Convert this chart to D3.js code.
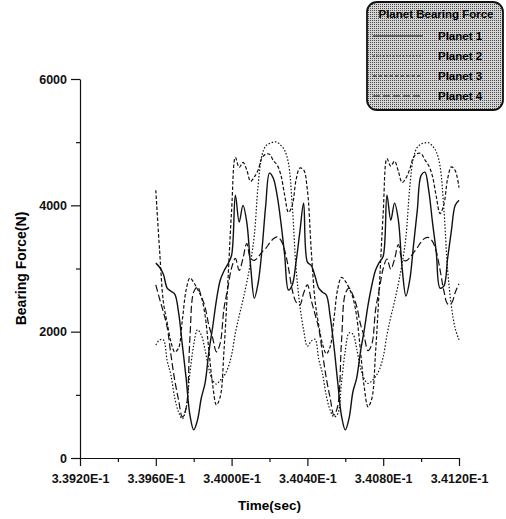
<!DOCTYPE html>
<html>
<head>
<meta charset="utf-8">
<script src="https://cdn.jsdelivr.net/npm/d3@7"></script>
<style>
  body { margin: 0; background: #fff; }
  svg { display: block; font-family: "Liberation Sans", Arial, sans-serif; }
</style>
</head>
<body>
<div id="chart"></div>
<script>
// Sample times (sec), one every 0.00002 s
const times = [
    0.33960, 0.33962, 0.33964, 0.33966, 0.33968, 0.33970, 0.33972, 0.33974, 0.33976, 0.33978,
    0.33980, 0.33982, 0.33984, 0.33986, 0.33988, 0.33990, 0.33992, 0.33994, 0.33996, 0.33998,
    0.34000, 0.34002, 0.34004, 0.34006, 0.34008, 0.34010, 0.34012, 0.34014, 0.34016, 0.34018,
    0.34020, 0.34022, 0.34024, 0.34026, 0.34028, 0.34030, 0.34032, 0.34034, 0.34036, 0.34038,
    0.34040, 0.34042, 0.34044, 0.34046, 0.34048, 0.34050, 0.34052, 0.34054, 0.34056, 0.34058,
    0.34060, 0.34062, 0.34064, 0.34066, 0.34068, 0.34070, 0.34072, 0.34074, 0.34076, 0.34078,
    0.34080, 0.34082, 0.34084, 0.34086, 0.34088, 0.34090, 0.34092, 0.34094, 0.34096, 0.34098,
    0.34100, 0.34102, 0.34104, 0.34106, 0.34108, 0.34110, 0.34112, 0.34114, 0.34116, 0.34118,
    0.34120
];

// Bearing force (N)
const planet1 = [
    3085, 3020, 2910, 2690, 2640, 2595, 2310, 1790, 1265, 680,
    445, 600, 950, 1185, 1680, 2070, 2500, 2815, 2960, 3070,
    3210, 4160, 3735, 4000, 3735, 3050, 2530, 2770, 3290, 4000,
    4510, 4430, 4160, 3735, 3210, 2660, 2740, 3100, 3575, 4035,
    3100, 3050, 2880, 2690, 2625, 2580, 2245, 1770, 1200, 665,
    445, 630, 1045, 1265, 1680, 2025, 2420, 2735, 2975, 3100,
    3195, 4160, 3765, 4035, 3765, 3005, 2565, 2815, 3370, 3925,
    4475, 4525, 4240, 3735, 3260, 2690, 2720, 3160, 3605, 4000,
    4080
];
const planet2 = [
    1790, 1870, 1870, 1540, 1310, 950, 730, 620, 790, 1340,
    1790, 2030, 1950, 1710, 1410, 1230, 1170, 1230, 1300, 1420,
    1630, 1980, 2250, 2500, 2780, 3100, 3530, 4320, 4790, 4940,
    4980, 5000, 5000, 4950, 4870, 4670, 4000, 3010, 2420, 2030,
    1770, 1850, 1880, 1560, 1330, 980, 760, 650, 700, 1200,
    1700, 1980, 1960, 1730, 1430, 1250, 1180, 1220, 1290, 1400,
    1600, 1950, 2230, 2480, 2760, 3080, 3500, 4280, 4760, 4920,
    4970, 4990, 4990, 4940, 4850, 4620, 3950, 2980, 2400, 2050,
    1870
];
const planet3 = [
    4240, 3290, 2470, 2140, 1840, 1680, 1740, 2180, 2660, 2850,
    2780, 2670, 2550, 2260, 1710, 1160, 840, 970, 1710, 2770,
    3920, 4760, 4600, 4680, 4560, 4380, 4450, 4560, 4750, 4810,
    4810, 4710, 4640, 4480, 4160, 3890, 4000, 4400, 4590, 4560,
    4240, 3300, 2500, 2100, 1800, 1650, 1760, 2200, 2680, 2860,
    2800, 2690, 2540, 2240, 1700, 1120, 810, 940, 1690, 2740,
    3880, 4740, 4620, 4700, 4540, 4360, 4430, 4570, 4760, 4820,
    4820, 4720, 4630, 4460, 4140, 3870, 4010, 4420, 4610, 4550,
    4280
];
const planet4 = [
    2740, 2520, 2310, 2070, 1630, 1230, 920, 650, 790, 1900,
    2630, 2710, 2560, 2390, 2100, 1900, 1680, 1820, 2370, 2690,
    3010, 3160, 2970, 3160, 3400, 3160, 3130, 3180, 3260, 3320,
    3400, 3470, 3500, 3450, 3290, 3010, 2660, 2470, 2420, 2610,
    2740, 2500, 2280, 2050, 1650, 1260, 950, 680, 820, 1850,
    2600, 2690, 2580, 2400, 2120, 1920, 1700, 1800, 2350, 2680,
    3000, 3150, 2990, 3150, 3380, 3150, 3120, 3170, 3250, 3330,
    3420, 3480, 3490, 3430, 3270, 2980, 2650, 2440, 2450, 2620,
    2760
];

const seriesNames = ["Planet 1", "Planet 2", "Planet 3", "Planet 4"];
const xTicks = [0.3392, 0.3396, 0.3400, 0.3404, 0.3408, 0.3412];
const xMinorTicks = [0.3394, 0.3398, 0.3402, 0.3406, 0.3410];
const yTicks = [0, 2000, 4000, 6000];
const yMinorTicks = [1000, 3000, 5000];

const series = [planet1, planet2, planet3, planet4];
const dashes = [null, "1.5,1.8", "3.5,2", "7,3"];

const W = 506, H = 519;
const margin = { top: 79, right: 47, bottom: 61, left: 80 };

const svg = d3.select("#chart").append("svg")
    .attr("width", W)
    .attr("height", H);

const x = d3.scaleLinear().domain([0.3392, 0.3412]).range([margin.left, W - margin.right]);
const y = d3.scaleLinear().domain([0, 6000]).range([H - margin.bottom, margin.top]);

// x axis
svg.append("g")
    .attr("transform", `translate(0,${y(0)})`)
    .call(d3.axisBottom(x).tickValues(xTicks).tickSize(8).tickSizeOuter(0).tickPadding(8)
        .tickFormat(d => (d * 10).toFixed(4) + "E-1"));
svg.append("g")
    .attr("transform", `translate(0,${y(0)})`)
    .call(d3.axisBottom(x).tickValues(xMinorTicks).tickSize(4).tickSizeOuter(0).tickFormat(""))
    .select(".domain").remove();

// y axis
svg.append("g")
    .attr("transform", `translate(${x(0.3392)},0)`)
    .call(d3.axisLeft(y).tickValues(yTicks).tickSize(9).tickSizeOuter(0).tickPadding(4)
        .tickFormat(d3.format("d")));
svg.append("g")
    .attr("transform", `translate(${x(0.3392)},0)`)
    .call(d3.axisLeft(y).tickValues(yMinorTicks).tickSize(4).tickSizeOuter(0).tickFormat(""))
    .select(".domain").remove();

svg.selectAll(".tick text")
    .attr("font-family", "Liberation Sans, Arial, sans-serif")
    .attr("font-size", 12.5)
    .attr("font-weight", "bold")
    .attr("fill", "#111");
svg.selectAll(".domain, .tick line").attr("stroke", "#111").attr("stroke-width", 1.2);

// axis titles
svg.append("text")
    .attr("x", (x(0.3392) + x(0.3412)) / 2)
    .attr("y", 510)
    .attr("text-anchor", "middle")
    .attr("font-size", 13.5)
    .attr("font-weight", "bold")
    .text("Time(sec)");

svg.append("text")
    .attr("transform", `translate(26,${(y(0) + y(6000)) / 2}) rotate(-90)`)
    .attr("text-anchor", "middle")
    .attr("font-size", 14)
    .attr("font-weight", "bold")
    .text("Bearing Force(N)");

// lines
const line = d3.line()
    .x((d, i) => x(times[i]))
    .y(d => y(d))
    .curve(d3.curveCatmullRom.alpha(0.5));

series.forEach((s, i) => {
    svg.append("path")
        .datum(s)
        .attr("fill", "none")
        .attr("stroke", "#111")
        .attr("stroke-width", i === 0 ? 1.4 : 1.2)
        .attr("stroke-dasharray", dashes[i])
        .attr("d", line);
});

// legend
const defs = svg.append("defs");
const pat = defs.append("pattern")
    .attr("id", "dots")
    .attr("width", 2).attr("height", 2)
    .attr("patternUnits", "userSpaceOnUse");
pat.append("rect").attr("width", 2).attr("height", 2).attr("fill", "#d4d4d4");
pat.append("rect").attr("width", 1).attr("height", 1).attr("fill", "#4a4a4a");

const legend = svg.append("g");
legend.append("rect")
    .attr("x", 367).attr("y", 2)
    .attr("width", 136).attr("height", 108)
    .attr("rx", 10)
    .attr("fill", "url(#dots)")
    .attr("stroke", "#111")
    .attr("stroke-width", 1.8);

legend.append("text")
    .attr("x", 436).attr("y", 18)
    .attr("text-anchor", "middle")
    .attr("font-size", 11.5)
    .attr("font-weight", "bold")
    .text("Planet Bearing Force");

seriesNames.forEach((name, i) => {
    const ly = 36 + i * 20;
    legend.append("line")
        .attr("x1", 373).attr("x2", 423)
        .attr("y1", ly).attr("y2", ly)
        .attr("stroke", "#111")
        .attr("stroke-width", 1.2)
        .attr("stroke-dasharray", dashes[i]);
    legend.append("text")
        .attr("x", 438).attr("y", ly + 4)
        .attr("font-size", 11.5)
        .attr("font-weight", "bold")
        .text(name);
});
</script>
</body>
</html>
